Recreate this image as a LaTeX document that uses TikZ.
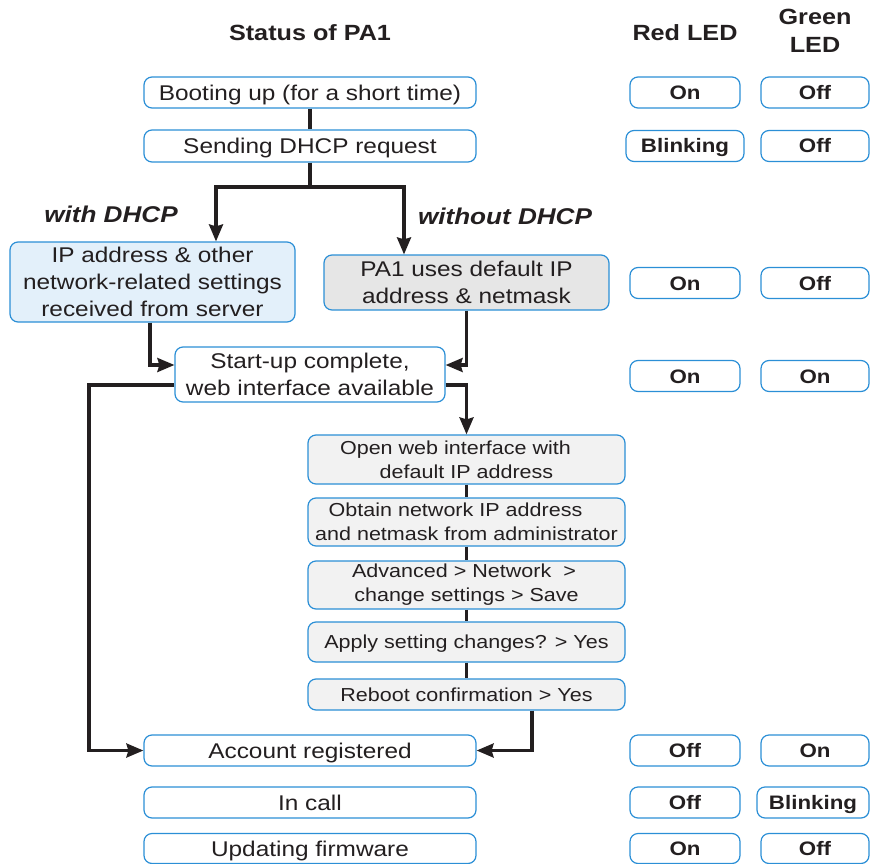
\documentclass[tikz,border=0pt]{standalone}
\usepackage{fontspec}
\setmainfont[FakeStretch=1.145]{Liberation Sans}
\usetikzlibrary{arrows.meta}
\definecolor{ink}{HTML}{231F20}
\definecolor{bdr}{HTML}{2B8FD6}
\definecolor{lblue}{HTML}{E3F0FA}
\definecolor{gA}{HTML}{E6E6E6}
\definecolor{gB}{HTML}{F2F2F2}
\tikzset{
  box/.style={draw=bdr, line width=1.2pt, rounded corners=8pt, inner sep=0pt, align=center,
    text=ink, font=\fontsize{21.3}{27}\selectfont},
  one/.style={text height=20.3pt, text depth=5pt},
  sbox/.style={box, fill=gB, minimum width=317pt, font=\fontsize{18.8}{24}\selectfont},
  sone/.style={text height=18.5pt, text depth=5pt},
  led/.style={draw=bdr, line width=1.2pt, rounded corners=8pt, inner sep=0pt, align=center,
    text=ink, font=\fontsize{19.5}{24}\selectfont\bfseries, minimum height=31pt,
    text height=19pt, text depth=5pt},
  hdr/.style={text=ink, font=\fontsize{22}{28}\selectfont\bfseries, align=center, inner sep=0pt},
  ital/.style={hdr, font=\fontsize{22.8}{28}\selectfont\bfseries\itshape},
  conn/.style={draw=ink, line width=3.2pt},
  arr/.style={conn, -{Stealth[length=17pt,width=14pt,inset=2pt]}},
}
\begin{document}
\begin{tikzpicture}[x=1pt,y=-1pt]
\useasboundingbox (0,0) rectangle (870,864);
% headers
\node[hdr] (title) at (310,33) {Status of PA1};
\node[hdr] (red) at (685,33) {Red LED};
\node[hdr] (green) at (815,31) {Green\\LED};
\node[ital] (with) at (111,214) {with DHCP};
\node[ital] (without) at (505,216) {without DHCP};
% main column
\node[box, one, minimum width=332pt, minimum height=31pt] (boot) at (310,92.5) {Booting up (for a short time)};
\node[box, one, minimum width=332pt, minimum height=32pt] (dhcp) at (310,146) {Sending DHCP request};
\node[box, fill=lblue, minimum width=285pt, minimum height=80pt] (ip) at (152.5,282) {IP address \& other\\network-related settings\\received from server};
\node[box, fill=gA, minimum width=285pt, minimum height=55pt] (pa1) at (466.5,282.5) {PA1 uses default IP\\address \& netmask};
\node[box, minimum width=270pt, minimum height=55pt] (start) at (310,374.5) {Start-up complete,\\web interface available};
\node[sbox, minimum height=49pt] (open) at (466.5,459.5) {Open web interface with\hspace*{22pt}\\default IP address};
\node[sbox, minimum height=48pt] (obtain) at (466.5,522) {Obtain network IP address\hspace*{22pt}\\and netmask from administrator};
\node[sbox, minimum height=48pt] (adv) at (466.5,585) {Advanced > Network \ >\hspace*{5pt}\\change settings > Save};
\node[sbox, sone, minimum height=40pt] (apply) at (466.5,642) {Apply setting changes? > Yes};
\node[sbox, sone, minimum height=31pt] (reboot) at (466.5,694.5) {Reboot confirmation > Yes};
\node[box, one, minimum width=332pt, minimum height=31pt] (acct) at (310,750.5) {Account registered};
\node[box, one, minimum width=332pt, minimum height=31pt] (incall) at (310,802.5) {In call};
\node[box, one, minimum width=332pt, minimum height=30pt] (update) at (310,848.5) {Updating firmware};
% LED boxes
\node[led, minimum width=110pt] (r1) at (685,92.5) {On};
\node[led, minimum width=108pt] (g1) at (815,92.5) {Off};
\node[led, minimum width=118pt] (r2) at (685,146) {Blinking};
\node[led, minimum width=108pt] (g2) at (815,146) {Off};
\node[led, minimum width=110pt] (r3) at (685,283) {On};
\node[led, minimum width=108pt] (g3) at (815,283) {Off};
\node[led, minimum width=110pt] (r4) at (685,376) {On};
\node[led, minimum width=108pt] (g4) at (815,376) {On};
\node[led, minimum width=110pt] (r5) at (685,750.5) {Off};
\node[led, minimum width=108pt] (g5) at (815,750.5) {On};
\node[led, minimum width=110pt] (r6) at (685,802.5) {Off};
\node[led, minimum width=112pt] (g6) at (813,802.5) {Blinking};
\node[led, minimum width=110pt, minimum height=30pt] (r7) at (685,848.5) {On};
\node[led, minimum width=108pt, minimum height=30pt] (g7) at (815,848.5) {Off};
% connectors
\draw[conn] (boot.south) -- (dhcp.north);
\coordinate (split) at (310,187);
\draw[arr] (dhcp.south) -- (split) -| ([xshift=63.5pt]ip.north);
\draw[arr] (split) -| ([xshift=-62.5pt]pa1.north);
\draw[arr] ([xshift=-2.5pt]ip.south) |- ([yshift=9.5pt]start.west);
\draw[arr] (pa1.south) |- ([yshift=9.5pt]start.east);
\coordinate (lft) at (89,385);
\draw[arr] ([yshift=-10.5pt]start.west) -- (lft) |- (acct.west);
\draw[arr] ([yshift=-10.5pt]start.east) -| (open.north);
\draw[conn] (open.south) -- (obtain.north);
\draw[conn] (obtain.south) -- (adv.north);
\draw[conn] (adv.south) -- (apply.north);
\draw[conn] (apply.south) -- (reboot.north);
\draw[arr] ([xshift=65.5pt]reboot.south) |- (acct.east);
\end{tikzpicture}
\end{document}
